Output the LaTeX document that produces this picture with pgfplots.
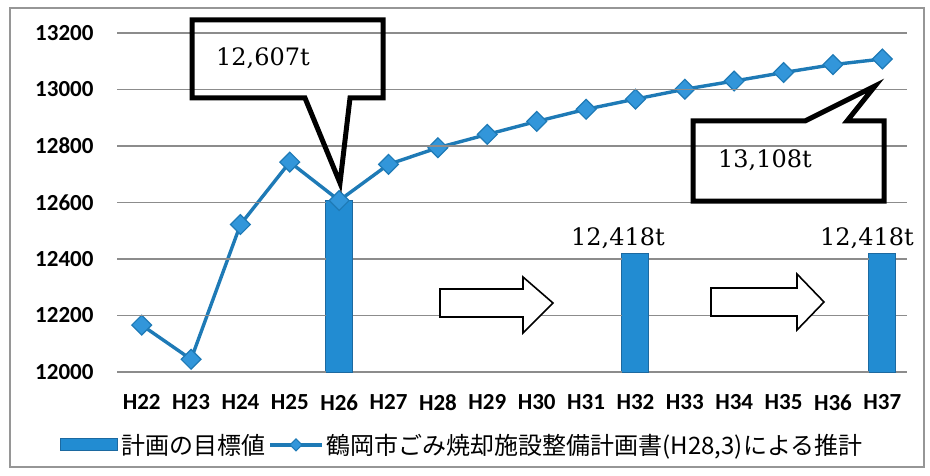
\documentclass[border=0pt]{standalone}
\usepackage{pgfplots}
\pgfplotsset{compat=1.18}
\usepackage{fontspec}
\setmainfont{Carlito}
\newfontfamily\cjk{Noto Sans CJK JP}
\newfontfamily\serifnum{DejaVu Serif}
\definecolor{barblue}{RGB}{34,140,210}
\definecolor{baredge}{RGB}{28,105,160}
\definecolor{lineblue}{RGB}{30,122,182}
\definecolor{mkfill}{RGB}{50,150,218}
\definecolor{gridgray}{RGB}{140,140,140}
\definecolor{framegray}{RGB}{150,150,150}
\begin{document}
\begin{tikzpicture}[x=1pt,y=1pt]
\useasboundingbox (0,0) rectangle (930,475);
\draw[framegray, line width=1.2pt] (10,8) rectangle (924,467);
\begin{axis}[
  at={(117pt,103pt)}, anchor=south west,
  scale only axis, width=790pt, height=339pt,
  xmin=-0.5, xmax=15.5, ymin=12000, ymax=13200,
  ytick={12000,12200,...,13200},
  scaled y ticks=false,
  xtick={0,...,15},
  xticklabels={H22,H23,H24,H25,H26,H27,H28,H29,H30,H31,H32,H33,H34,H35,H36,H37},
  axis line style={draw=none},
  major tick length=0pt,
  tick label style={font=\bfseries\fontsize{23}{23}\selectfont},
  yticklabel style={xshift=-20pt},
  xticklabel style={yshift=-19pt},
  /pgf/number format/1000 sep={},
  /pgf/number format/assume math mode=true,
  legend style={at={(-0.072,-0.215)}, anchor=west, draw=none, fill=none,
    font=\cjk\fontsize{24}{24}\selectfont, inner sep=0pt,
    nodes={inner sep=3pt}},
  legend columns=2,
]
% target bars (H26, H32, H37), width 27pt = 0.547 x-units, from 12000 up to the value
\addplot[fill=barblue, draw=baredge, line width=1pt,
  legend image code/.code={\filldraw[fill=barblue, draw=baredge, line width=1pt] (0pt,-6pt) rectangle (57pt,6pt);}]
  coordinates {(3.727,12000) (3.727,12607) (4.273,12607) (4.273,12000)} --cycle;
\addlegendentry{計画の目標値}
\addplot[fill=barblue, draw=baredge, line width=1pt, forget plot]
  coordinates {(9.727,12000) (9.727,12418) (10.273,12418) (10.273,12000)} --cycle;
\addplot[fill=barblue, draw=baredge, line width=1pt, forget plot]
  coordinates {(14.727,12000) (14.727,12418) (15.273,12418) (15.273,12000)} --cycle;
\addplot[lineblue, line width=3.4pt, mark=square*, mark size=7pt,
  mark options={rotate=45, fill=mkfill, draw=lineblue, line width=1.2pt},
  legend image code/.code={\draw[lineblue, line width=3.4pt] (0pt,0pt)--(52pt,0pt);
    \filldraw[fill=mkfill, draw=lineblue, line width=1.2pt] (26pt,6pt)--(32pt,0pt)--(26pt,-6pt)--(20pt,0pt)--cycle;}]
  coordinates {(0,12166) (1,12045) (2,12522) (3,12743) (4,12607) (5,12735)
    (6,12794) (7,12841) (8,12887) (9,12930) (10,12966) (11,13001)
    (12,13030) (13,13060) (14,13088) (15,13108)};
\addlegendentry{鶴岡市ごみ焼却施設整備計画書(H28,3)による推計}
\end{axis}
% horizontal grid lines (12000..13200 step 200), split around the bars
\begin{scope}[gridgray, line width=1.4pt]
\foreach \yy in {103,159.5,216}{
  \draw (117,\yy)--(325.7,\yy) (352.7,\yy)--(621.9,\yy) (648.9,\yy)--(868.8,\yy) (895.8,\yy)--(907,\yy);
}
\draw (117,272.5)--(325.7,272.5) (352.7,272.5)--(907,272.5);
\foreach \yy in {329,385.5,442}{
  \draw (117,\yy)--(907,\yy);
}
\end{scope}
% callout 1
\draw[black, line width=5pt, line join=miter]
  (192,455)--(383,455)--(383,377)--(350,377)--(340,292)--(305,377)--(192,377)--cycle;
\node[font=\serifnum\fontsize{24}{24}\selectfont] at (263,417) {12,607t};
% callout 2
\draw[black, line width=5pt, line join=miter]
  (693,354)--(805,354)--(875,389)--(847,354)--(884,354)--(884,274)--(693,274)--cycle;
\node[font=\serifnum\fontsize{24}{24}\selectfont] at (765,315) {13,108t};
% bar labels
\node[font=\serifnum\fontsize{24}{24}\selectfont] at (618,237) {12,418t};
\node[font=\serifnum\fontsize{24}{24}\selectfont] at (867,237) {12,418t};
% arrows
\filldraw[fill=white, draw=black, line width=1.6pt]
  (440,186)--(523,186)--(523,198)--(553,172)--(523,142)--(523,158)--(440,158)--cycle;
\filldraw[fill=white, draw=black, line width=1.6pt]
  (711,187)--(797,187)--(797,201)--(824,173)--(797,145)--(797,159)--(711,159)--cycle;
\end{tikzpicture}
\end{document}
